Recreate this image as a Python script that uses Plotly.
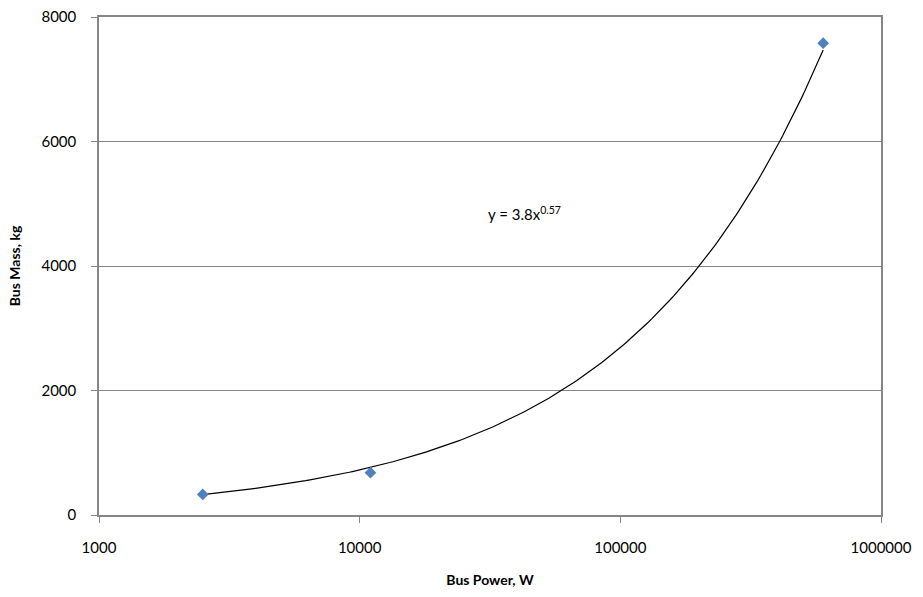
import numpy as np
import plotly.graph_objects as go

# Data
bus_power_w = [2500, 11000, 600000]
bus_mass_kg = [330, 680, 7580]

# Power-law trendline shown on the chart: y = 3.8 x^0.57
trend_coef = 3.8
trend_exp = 0.57
trend_x = np.logspace(np.log10(bus_power_w[0]), np.log10(bus_power_w[-1]), 200)
trend_y = trend_coef * trend_x ** trend_exp

x_ticks = [1000, 10000, 100000, 1000000]
y_ticks = [0, 2000, 4000, 6000, 8000]

fig = go.Figure()
fig.add_trace(go.Scatter(x=trend_x, y=trend_y, mode="lines",
                         line=dict(color="black", width=1.2), showlegend=False,
                         hoverinfo="skip"))
fig.add_trace(go.Scatter(x=bus_power_w, y=bus_mass_kg, mode="markers",
                         marker=dict(symbol="diamond", size=9, color="#4F81BD"),
                         showlegend=False))

font_family = "Lato, 'Open Sans', Arial, sans-serif"

fig.update_layout(
    width=923, height=597,
    margin=dict(l=99, r=42, t=17, b=82),
    paper_bgcolor="white", plot_bgcolor="white",
    font=dict(family=font_family, size=15, color="black"),
    annotations=[dict(
        x=np.log10(43000), y=4850, xref="x", yref="y",
        text="y = 3.8x<sup>0.57</sup>", showarrow=False,
        font=dict(family=font_family, size=15, color="black"))],
)
fig.update_xaxes(
    type="log", range=[3, 6], automargin=False,
    tickvals=x_ticks, ticktext=[str(v) for v in x_ticks],
    tickfont=dict(size=15), ticklabelstandoff=12,
    showgrid=False, showline=True, linecolor="#868686", linewidth=1.5,
    mirror=True, ticks="outside", ticklen=6, tickcolor="#868686",
    title=dict(text="<b>Bus Power, W</b>", font=dict(size=14), standoff=20),
    zeroline=False,
)
fig.update_yaxes(
    range=[0, 8000], automargin=False,
    tickvals=y_ticks, ticktext=[str(v) for v in y_ticks],
    tickfont=dict(size=15), ticklabelstandoff=12,
    showgrid=True, gridcolor="#868686", gridwidth=1,
    showline=True, linecolor="#868686", linewidth=1.5,
    mirror=True, ticks="outside", ticklen=6, tickcolor="#868686",
    title=dict(text="<b>Bus Mass, kg</b>", font=dict(size=14), standoff=18),
    zeroline=False,
)

fig.write_html("out.html")
